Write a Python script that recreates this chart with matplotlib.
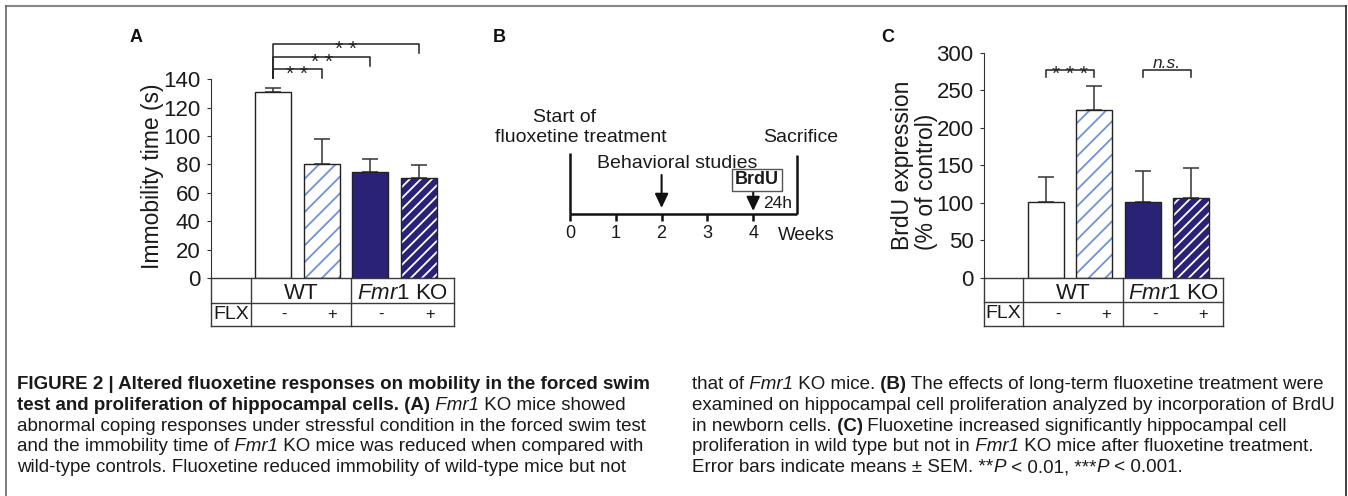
import numpy as np
import matplotlib
matplotlib.use('Agg')
import matplotlib.pyplot as plt
from matplotlib.lines import Line2D

plt.rcParams['font.family'] = ['Liberation Sans', 'DejaVu Sans']
plt.rcParams['mathtext.fontset'] = 'custom'
plt.rcParams['mathtext.rm'] = 'Liberation Sans'
plt.rcParams['mathtext.it'] = 'Liberation Sans:italic'
plt.rcParams['mathtext.bf'] = 'Liberation Sans:bold'
plt.rcParams['hatch.linewidth'] = 1.3

# ---- data ----
groups = ['WT', r'$\mathit{Fmr1}$ KO']
flx = ['-', '+', '-', '+']
immob_mean = [130.7, 80.0, 74.4, 70.6]
immob_err = [3.3, 17.8, 9.1, 8.7]
immob_sig = [(0, 1, '* *'), (0, 2, '* *'), (0, 3, '* *')]
brdu_mean = [101, 224, 101, 107]
brdu_err = [34, 31, 41, 39]
brdu_sig = [(0, 1, '* * *'), (2, 3, 'n.s.')]
weeks = [0, 1, 2, 3, 4]
sacrifice_week = 4.95
behav_week = 2
brdu_week = 4

# ---- styles ----
NAVY = '#2a2277'
LBLUE = '#6f93d8'
EDGE = '#222222'
bar_face = ['white', 'white', NAVY, NAVY]
bar_hatch = [None, '//', None, '///']
bar_hcol = ['white', LBLUE, NAVY, 'white']

W, H = 1348, 496
fig = plt.figure(figsize=(W / 100, H / 100), dpi=100)


def fx(x):
    return x / W


def fy(y):
    return 1 - y / H


def bar_panel(left, right, y0, top, ppu, xl, ylim_top, means, errs, ylabtick):
    ax = fig.add_axes([fx(left), fy(y0), fx(right) - fx(left), (y0 - top) / H])
    ax.set_xlim(xl)
    ax.set_ylim(0, (y0 - top) / ppu)
    x = np.arange(len(means))
    for i in range(len(means)):
        ax.bar(x[i], means[i], width=0.74, color=bar_face[i], edgecolor=bar_hcol[i],
               hatch=bar_hatch[i], linewidth=0, zorder=2)
        ax.bar(x[i], means[i], width=0.74, fill=False, edgecolor=EDGE, linewidth=1.0, zorder=3)
    ax.errorbar(x, means, yerr=[np.zeros(len(errs)), errs], fmt='none', ecolor='#333333',
                elinewidth=1.1, capsize=5.8, capthick=1.1, zorder=1)
    for s in ['top', 'right', 'bottom']:
        ax.spines[s].set_visible(False)
    ax.spines['left'].set_bounds(0, ylim_top)
    ax.spines['left'].set_color('#333333')
    ax.set_xticks([])
    ax.set_yticks(ylabtick)
    ax.tick_params(axis='y', length=3, width=0.8, pad=4.5, labelsize=16,
                   color='#333333', labelcolor='#1a1a1a')
    return ax


def draw_table(ax, div0, div1, r1, r2, sign_off):
    tr = ax.get_xaxis_transform()
    x0, x1 = ax.get_xlim()
    kw = dict(color='#3a3a3a', lw=1.0, transform=tr, clip_on=False)
    for yy in [0, r1, r2]:
        ax.plot([x0, x1], [yy, yy], **kw)
    for xx in [x0, div0, div1, x1]:
        ax.plot([xx, xx], [0, r2], **kw)
    ax.text((div0 + div1) / 2, r1 / 2 - 0.014, groups[0], transform=tr, ha='center',
            va='center', fontsize=16, color='#1a1a1a')
    ax.text((div1 + x1) / 2, r1 / 2 - 0.014, groups[1], transform=tr, ha='center',
            va='center', fontsize=16, color='#1a1a1a')
    ax.text((x0 + div0) / 2, (r1 + r2) / 2, 'FLX', transform=tr, ha='center',
            va='center', fontsize=14, color='#1a1a1a')
    for i, s in enumerate(flx):
        ax.text(i + sign_off, (r1 + r2) / 2, s, transform=tr, ha='center',
                va='center', fontsize=12, color='#1a1a1a')


# ---- panel A ----
axA = bar_panel(211, 454, 278, 29, 1.42, (-1.274, 3.72), 140, immob_mean, immob_err,
                np.arange(0, 141, 20))
draw_table(axA, -0.45, 1.6, -25 / 249, -48 / 249, 0.22)
base, step = 147.0, 8.9
for k, (a, b, lab) in enumerate(immob_sig):
    yb = base + k * step
    axA.plot([a, a, b, b], [140.8, yb, yb, yb - 6.3], color='#222222', lw=1.1, clip_on=False)
    axA.text((a + b) / 2, yb - 4.0, lab, ha='center', va='center', fontsize=15, color='#222222')

# ---- panel C ----
axC = bar_panel(984, 1223, 278, 29, 0.7513, (-1.275, 3.66), 300, brdu_mean, brdu_err,
                np.arange(0, 301, 50))
draw_table(axC, -0.47, 1.6, -24 / 249, -48 / 249, 0.25)
for a, b, lab in brdu_sig:
    yb = 277.4
    axC.plot([a, a, b, b], [yb - 10, yb, yb, yb - 10], color='#222222', lw=1.1, clip_on=False)
    if lab == 'n.s.':
        axC.text((a + b) / 2, yb + 8, lab, ha='center', va='center', fontsize=12.5,
                 style='italic', color='#222222')
    else:
        axC.text((a + b) / 2, yb - 6, lab, ha='center', va='center', fontsize=15, color='#222222')

fig.text(fx(153), fy(176), 'Immobility time (s)', rotation=90, ha='center', va='center',
         fontsize=16.5, color='#1a1a1a')
fig.text(fx(903), fy(250), 'BrdU expression', rotation=90, ha='center', va='bottom',
         fontsize=16.5, color='#1a1a1a')
fig.text(fx(926), fy(250), '(% of control)', rotation=90, ha='center', va='bottom',
         fontsize=16.5, color='#1a1a1a')

# ---- panel B timeline ----
axB = fig.add_axes([fx(480), fy(260), fx(850) - fx(480), 240 / H])
axB.set_xlim(-90 / 45.8, 280 / 45.8)
axB.set_ylim(260, 20)
axB.axis('off')
lk = dict(color='#111111', lw=1.8, solid_capstyle='butt')
axB.plot([0, sacrifice_week], [214, 214], **lk)
for w in weeks:
    axB.plot([w, w], [214, 221], **lk)
    axB.text(w, 233, str(w), ha='center', va='center', fontsize=13, color='#1a1a1a')
axB.plot([0, 0], [153, 214], **lk)
axB.plot([sacrifice_week, sacrifice_week], [155, 214], **lk)
arr = dict(arrowstyle='-|>,head_length=0.85,head_width=0.4', color='#111111', lw=1.5,
           shrinkA=0, shrinkB=0)
axB.annotate('', xy=(behav_week, 208), xytext=(behav_week, 175), arrowprops=arr)
axB.annotate('', xy=(brdu_week, 211), xytext=(brdu_week, 190), arrowprops=arr)
axB.text(4.08, 180, 'BrdU', fontweight='bold', fontsize=13, ha='center', va='center',
         color='#1a1a1a', bbox=dict(boxstyle='square,pad=0.15', fc='white', ec='#555555', lw=1))
axB.text(4.53, 203, '24h', fontsize=12.5, ha='center', va='center', color='#1a1a1a')
axB.text(5.15, 235, 'Weeks', fontsize=13.5, ha='center', va='center', color='#1a1a1a')
axB.text(-0.11, 117, 'Start of', fontsize=14, ha='center', va='center', color='#1a1a1a')
axB.text(0.24, 137, 'fluoxetine treatment', fontsize=14, ha='center', va='center', color='#1a1a1a')
axB.text(5.04, 137, 'Sacrifice', fontsize=14, ha='center', va='center', color='#1a1a1a')
axB.text(2.34, 163, 'Behavioral studies', fontsize=14, ha='center', va='center', color='#1a1a1a')

# panel letters
for lx, lab in [(130, 'A'), (493, 'B'), (881, 'C')]:
    fig.text(fx(lx), fy(37), lab, fontweight='bold', fontsize=13, va='center', color='#111111')

# ---- caption ----
renderer = fig.canvas.get_renderer()
CAP = 13.5


def runs_text(x, y, runs):
    cx = x
    for s, st in runs:
        kw = {}
        if 'b' in st:
            kw['fontweight'] = 'bold'
        if 'i' in st:
            kw['fontstyle'] = 'italic'
        t = fig.text(fx(cx), fy(y), s, fontsize=CAP, va='baseline', ha='left',
                     color='#1a1a1a', **kw)
        cx += t.get_window_extent(renderer=renderer).width


left_lines = [
    [('FIGURE 2 | Altered fluoxetine responses on mobility in the forced swim', 'b')],
    [('test and proliferation of hippocampal cells.', 'b'), (' (A)', 'b'), (' Fmr1', 'i'),
     (' KO mice showed', '')],
    [('abnormal coping responses under stressful condition in the forced swim test', '')],
    [('and the immobility time of', ''), (' Fmr1', 'i'), (' KO mice was reduced when compared with', '')],
    [('wild-type controls. Fluoxetine reduced immobility of wild-type mice but not', '')],
]
right_lines = [
    [('that of', ''), (' Fmr1', 'i'), (' KO mice.', ''), (' (B)', 'b'),
     (' The effects of long-term fluoxetine treatment were', '')],
    [('examined on hippocampal cell proliferation analyzed by incorporation of BrdU', '')],
    [('in newborn cells.', ''), (' (C)', 'b'), (' Fluoxetine increased significantly hippocampal cell', '')],
    [('proliferation in wild type but not in', ''), (' Fmr1', 'i'),
     (' KO mice after fluoxetine treatment.', '')],
    [('Error bars indicate means \u00b1 SEM. **', ''), ('P', 'i'), (' < 0.01, ***', ''), ('P', 'i'),
     (' < 0.001.', '')],
]
for k in range(5):
    yb = 389 + k * 20.8
    runs_text(17, yb, left_lines[k])
    runs_text(692, yb, right_lines[k])

# outer frame
fig.add_artist(Line2D([fx(5.5), fx(1346)], [fy(5.5), fy(5.5)], color='#888888', lw=1.5))
fig.add_artist(Line2D([fx(5.5), fx(5.5)], [fy(5.5), 0], color='#666666', lw=1.2))
fig.add_artist(Line2D([fx(1346), fx(1346)], [fy(5.5), 0], color='#222222', lw=1.2))

fig.savefig('out.png', dpi=100, facecolor='white')
